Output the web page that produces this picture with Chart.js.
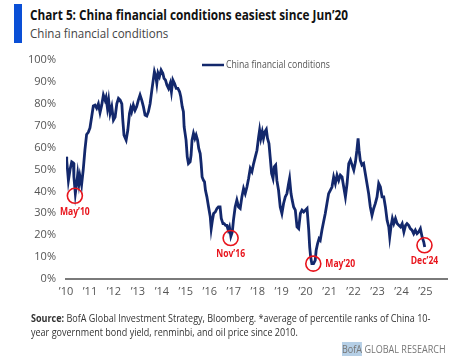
<!DOCTYPE html>
<html>
<head>
<meta charset="utf-8">
<script src="https://cdn.jsdelivr.net/npm/chart.js@4"></script>
<style>
  body { margin: 0; background: #fff; width: 473px; height: 360px; overflow: hidden; position: relative; font-family: "Open Sans", sans-serif; }
  #bar { position: absolute; left: 14px; top: 4px; width: 8px; height: 39px; background: #0a4fd6; }
  .txt { position: absolute; white-space: nowrap; transform-origin: 0 0; }
  #title { left: 30px; top: 5px; font-size: 14px; font-weight: bold; color: #111; }
  #subtitle { left: 30px; top: 24px; font-size: 13px; color: #444; }
  #source { left: 31px; top: 311px; font-size: 10.5px; line-height: 14px; color: #333; }
  #brand { left: 342px; top: 342px; font-size: 10px; color: #777; }
  #brand span { background: #b5cfe6; }
  canvas { position: absolute; left: 0; top: 0; }
</style>
</head>
<body>
<div id="bar"></div>
<div class="txt" id="title" data-w="318">Chart 5: China financial conditions easiest since Jun’20</div>
<div class="txt" id="subtitle" data-w="138">China financial conditions</div>
<canvas id="chart" width="473" height="360"></canvas>
<div class="txt" id="source" data-w="399"><b>Source:</b> BofA Global Investment Strategy, Bloomberg. *average of percentile ranks of China 10-<br>year government bond yield, renminbi, and oil price since 2010.</div>
<div class="txt" id="brand" data-w="104"><span>BofA</span> GLOBAL RESEARCH</div>
<script>
// decimal years and index values (%)
const dates = [
  2010.00, 2010.03, 2010.07, 2010.10, 2010.17, 2010.24, 2010.31, 2010.33, 2010.39, 2010.45,
  2010.49, 2010.54, 2010.58, 2010.65, 2010.72, 2010.79, 2010.86, 2010.93, 2011.00, 2011.07,
  2011.14, 2011.21, 2011.28, 2011.35, 2011.42, 2011.49, 2011.56, 2011.63, 2011.67, 2011.73,
  2011.78, 2011.84, 2011.91, 2011.98, 2012.05, 2012.12, 2012.19, 2012.26, 2012.33, 2012.37,
  2012.42, 2012.51, 2012.58, 2012.65, 2012.70, 2012.74, 2012.81, 2012.88, 2012.95, 2013.02,
  2013.09, 2013.16, 2013.23, 2013.30, 2013.37, 2013.44, 2013.51, 2013.58, 2013.65, 2013.69,
  2013.75, 2013.79, 2013.84, 2013.90, 2013.97, 2014.04, 2014.09, 2014.15, 2014.21, 2014.28,
  2014.35, 2014.40, 2014.46, 2014.53, 2014.60, 2014.67, 2014.74, 2014.79, 2014.85, 2014.90,
  2014.93, 2014.97, 2015.01, 2015.06, 2015.11, 2015.18, 2015.22, 2015.26, 2015.32, 2015.38,
  2015.43, 2015.49, 2015.54, 2015.60, 2015.64, 2015.68, 2015.74, 2015.78, 2015.82, 2015.88,
  2015.95, 2016.02, 2016.06, 2016.11, 2016.16, 2016.23, 2016.30, 2016.36, 2016.43, 2016.48,
  2016.55, 2016.60, 2016.66, 2016.71, 2016.77, 2016.82, 2016.88, 2016.94, 2016.99, 2017.06,
  2017.13, 2017.20, 2017.27, 2017.34, 2017.41, 2017.48, 2017.55, 2017.62, 2017.69, 2017.76,
  2017.83, 2017.90, 2017.97, 2018.04, 2018.08, 2018.13, 2018.19, 2018.24, 2018.30, 2018.36,
  2018.41, 2018.47, 2018.52, 2018.58, 2018.64, 2018.69, 2018.75, 2018.80, 2018.87, 2018.94,
  2019.01, 2019.08, 2019.15, 2019.22, 2019.29, 2019.33, 2019.39, 2019.44, 2019.50, 2019.57,
  2019.64, 2019.71, 2019.78, 2019.85, 2019.92, 2019.99, 2020.06, 2020.13, 2020.17, 2020.21,
  2020.26, 2020.33, 2020.40, 2020.44, 2020.50, 2020.56, 2020.61, 2020.68, 2020.75, 2020.82,
  2020.89, 2020.96, 2021.03, 2021.10, 2021.17, 2021.24, 2021.31, 2021.38, 2021.45, 2021.52,
  2021.59, 2021.66, 2021.73, 2021.80, 2021.87, 2021.94, 2022.01, 2022.08, 2022.14, 2022.19,
  2022.23, 2022.28, 2022.35, 2022.42, 2022.49, 2022.56, 2022.63, 2022.70, 2022.77, 2022.84,
  2022.91, 2022.98, 2023.05, 2023.12, 2023.19, 2023.26, 2023.33, 2023.40, 2023.47, 2023.51,
  2023.57, 2023.62, 2023.68, 2023.75, 2023.82, 2023.89, 2023.96, 2024.03, 2024.10, 2024.17,
  2024.23, 2024.30, 2024.37, 2024.44, 2024.51, 2024.58, 2024.65, 2024.72, 2024.79, 2024.86,
  2024.93, 2024.97
];
const values = [
  55.8, 54, 49, 45, 50, 53.5, 53, 46.6, 39, 44,
  48, 43.6, 47, 43, 50, 59, 66, 67, 69, 74,
  79, 79.4, 78, 80, 76, 79.4, 84, 81.7, 83, 78,
  81.7, 75.6, 78.7, 72.6, 74, 80, 82.5, 81.7, 80, 72.6,
  65.7, 63.4, 68, 75.6, 78, 76.4, 79.4, 77, 78.7, 81.7,
  84, 81.7, 78.7, 74.8, 74.4, 76.4, 80, 86, 91.6, 94.7,
  92.4, 89.3, 94, 92.4, 95.4, 94, 91.6, 90.9, 88.6, 87,
  89.3, 85.5, 90.9, 89.3, 87, 87, 85.5, 83.2, 78.7, 76.4,
  69.5, 66.5, 63.4, 55.8, 52.7, 53.5, 56.6, 63.4, 66.5, 64.2,
  65.7, 63.4, 59.6, 57.3, 52.7, 46.6, 45, 44.4, 40.5, 37.5,
  32.9, 28.4, 23, 26.8, 29.9, 30.6, 32.2, 32.9, 32.9, 27.6,
  25.3, 25.3, 24.5, 24.5, 22.3, 23.8, 19.5, 21.5, 27, 32.9,
  36, 32.9, 32.2, 37.5, 41.3, 39, 42, 45.9, 50.5, 49,
  52.7, 55.8, 58.8, 65, 68, 64.2, 67.2, 64.2, 67.2, 68.3,
  64.2, 61.9, 55.8, 48.2, 45.9, 51.2, 52, 45, 40.5, 32.9,
  29.9, 34.5, 37.5, 39, 43.6, 45.9, 39, 36, 32.9, 31.4,
  23.8, 23, 29.9, 31.4, 30.6, 31.4, 32.2, 22.3, 14.6, 10,
  7, 7, 8.5, 13.1, 16.2, 18.4, 17.7, 22.3, 26.1, 29.9,
  34.5, 39, 40.5, 42, 46.6, 43.6, 47.4, 45, 47.4, 46.6,
  42, 37.5, 43.6, 52.7, 54.3, 52, 49.7, 53.5, 58.8, 64.2,
  58.8, 54.3, 52, 52.7, 48.2, 43.6, 39, 32.9, 29.1, 32.2,
  34.5, 37.5, 43.6, 42, 37.5, 37.5, 32.9, 26.8, 23.8, 19.2,
  24.5, 27.6, 25.3, 27.6, 25.3, 24.5, 23.8, 25.3, 21.5, 24.5,
  25.3, 24.5, 23, 22.3, 20.7, 22.3, 20.7, 21.5, 23, 19.2,
  16.9, 14.6
];

// circled lows
const markDates = [2010.37, 2016.87, 2020.32, 2024.96];
const markValues = [38, 18.7, 7, 15.4];
const markLabels = ['May’10', 'Nov’16', 'May’20', 'Dec’24'];
const markSides = ['below', 'below', 'right', 'below'];

const seriesLabel = 'China financial conditions';
const lineColor = '#13286c';
const red = '#e8141c';

const points = dates.map((d, i) => ({ x: d, y: values[i] }));

// squeeze the html text blocks to the narrow face of the original
document.querySelectorAll('.txt').forEach(el => {
  const w = el.scrollWidth;
  el.style.transform = 'scaleX(' + (parseFloat(el.dataset.w) / w) + ')';
});

// draw text squeezed horizontally
function narrowText(ctx, text, x, y, align, sx) {
  const w = ctx.measureText(text).width * sx;
  let left = x;
  if (align === 'center') left = x - w / 2;
  ctx.save();
  ctx.translate(left, y);
  ctx.scale(sx, 1);
  ctx.textAlign = 'left';
  ctx.fillText(text, 0, 0);
  ctx.restore();
}

const marksPlugin = {
  id: 'marks',
  afterDatasetsDraw(chart) {
    const ctx = chart.ctx;
    const xs = chart.scales.x, ys = chart.scales.y;
    ctx.save();
    markDates.forEach((d, i) => {
      const px = xs.getPixelForValue(d);
      const py = ys.getPixelForValue(markValues[i]);
      ctx.beginPath();
      ctx.arc(px, py, 7.5, 0, Math.PI * 2);
      ctx.strokeStyle = red;
      ctx.lineWidth = 1.6;
      ctx.stroke();
      ctx.fillStyle = red;
      ctx.font = 'bold 11px "Open Sans", sans-serif';
      ctx.textBaseline = 'middle';
      if (markSides[i] === 'right') {
        narrowText(ctx, markLabels[i], px + 12, py, 'left', 0.78);
      } else {
        narrowText(ctx, markLabels[i], px, py + 16, 'center', 0.78);
      }
    });
    // legend
    const lx = 202, ly = 65;
    ctx.beginPath();
    ctx.moveTo(lx, ly);
    ctx.lineTo(lx + 22, ly);
    ctx.strokeStyle = lineColor;
    ctx.lineWidth = 2.5;
    ctx.stroke();
    ctx.fillStyle = '#555';
    ctx.font = '10px "Open Sans", sans-serif';
    ctx.textBaseline = 'middle';
    narrowText(ctx, seriesLabel, lx + 24, ly, 'left', 0.87);
    ctx.restore();
  }
};

new Chart(document.getElementById('chart'), {
  type: 'line',
  data: {
    datasets: [{
      label: seriesLabel,
      data: points,
      borderColor: lineColor,
      borderWidth: 2.8,
      pointRadius: 0,
      tension: 0,
      fill: false
    }]
  },
  options: {
    responsive: false,
    animation: false,
    layout: { padding: { left: 0, right: 26, top: 60, bottom: 60 } },
    plugins: { legend: { display: false }, tooltip: { enabled: false } },
    scales: {
      x: {
        type: 'linear',
        min: 2010,
        max: 2025.9,
        afterFit(scale) { scale.height = 21; },
        afterBuildTicks(scale) {
          scale.ticks = [];
          for (let y = 2010; y <= 2025; y++) scale.ticks.push({ value: y });
        },
        grid: { display: false, drawTicks: false },
        border: { display: true, color: '#7a7a7a', width: 2 },
        ticks: {
          padding: 6,
          color: '#555',
          font: { family: '"Open Sans", sans-serif', size: 11 },
          maxRotation: 0,
          autoSkip: false,
          callback: v => '\u2019' + String(v).slice(2)
        }
      },
      y: {
        min: 0,
        max: 100,
        afterFit(scale) { scale.width = 66; },
        grid: { display: false, drawTicks: false },
        border: { display: false },
        ticks: {
          stepSize: 10,
          padding: 10,
          color: '#555',
          font: { family: '"Open Sans", sans-serif', size: 11 },
          callback: v => v + '%'
        }
      }
    }
  },
  plugins: [marksPlugin]
});
</script>
</body>
</html>
